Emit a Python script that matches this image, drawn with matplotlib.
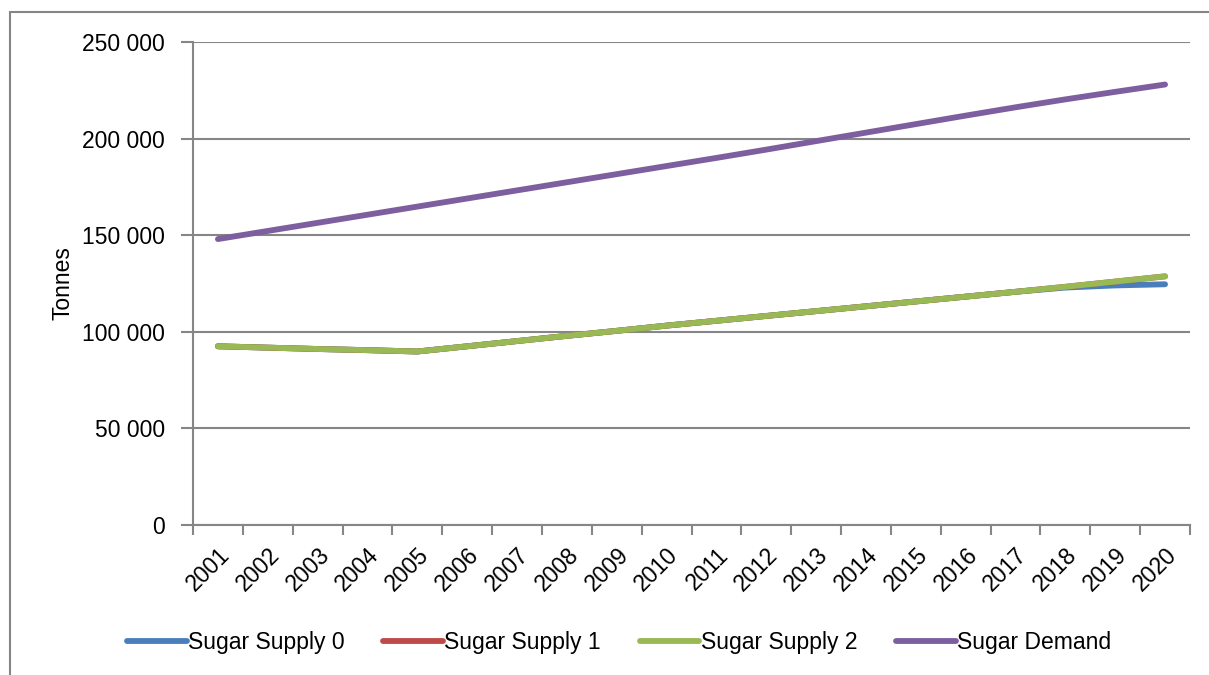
import matplotlib.pyplot as plt
from matplotlib.patches import Rectangle
from matplotlib.ticker import FuncFormatter, FixedLocator

plt.rcParams['font.family'] = ['Liberation Sans', 'DejaVu Sans']

years = [str(y) for y in range(2001, 2021)]
supply_0 = [92500, 91800, 91100, 90500, 89800, 92500, 95200, 97900, 100500, 103200,
            105700, 108200, 110700, 113200, 115700, 118200, 120700, 122900, 124000, 124600]
supply_1 = [92500, 91800, 91100, 90500, 89800, 92500, 95200, 97900, 100500, 103200,
            105700, 108200, 110700, 113200, 115700, 118200, 120700, 123300, 126000, 128700]
supply_2 = [92500, 91800, 91100, 90500, 89800, 92500, 95200, 97900, 100500, 103200,
            105700, 108200, 110700, 113200, 115700, 118200, 120700, 123300, 126000, 128700]
demand = [148000, 152200, 156400, 160600, 164800, 169000, 173200, 177400, 181600, 185800,
          190000, 194300, 198700, 203100, 207500, 211900, 216200, 220300, 224200, 228000]

series = [
    ('Sugar Supply 0', supply_0, '#4A7EBB'),
    ('Sugar Supply 1', supply_1, '#BE4B48'),
    ('Sugar Supply 2', supply_2, '#98B954'),
    ('Sugar Demand', demand, '#7D5FA0'),
]

grey = '#868686'
fs = 16.5
fig = plt.figure(figsize=(12.09, 6.75), dpi=100)
fig.patches.append(Rectangle((10 / 1209, -0.1), 1.2, 1 - 12 / 675 + 0.1,
                             transform=fig.transFigure, fill=False,
                             edgecolor=grey, linewidth=1.5))
ax = fig.add_axes([193 / 1209, 1 - 525 / 675, (1190 - 193) / 1209, (525 - 42) / 675])

x = list(range(len(years)))
for name, vals, col in series:
    ax.plot(x, vals, color=col, linewidth=4.2, solid_capstyle='round', label=name)

ax.set_xlim(-0.5, len(years) - 0.5)
ax.set_ylim(0, 250000)
ax.set_yticks(range(0, 250001, 50000))
ax.yaxis.set_major_formatter(FuncFormatter(lambda v, p: f'{int(v):,}'.replace(',', ' ')))
ax.grid(axis='y', color=grey, linewidth=1.5)
ax.set_axisbelow(True)

# ticks sit between categories, labels under category centres
ax.xaxis.set_major_locator(FixedLocator([i - 0.5 for i in range(len(years) + 1)]))
ax.set_xticklabels([])
ax.xaxis.set_minor_locator(FixedLocator(x))
ax.set_xticklabels(years, minor=True, rotation=45, ha='right', va='top',
                   rotation_mode='anchor', fontsize=fs)
ax.tick_params(axis='x', which='minor', length=0, pad=13)
ax.tick_params(axis='x', which='major', length=7, width=1.5, color=grey)
ax.tick_params(axis='y', length=9, width=1.5, color=grey, labelsize=fs, pad=11)

for s in ['top', 'right']:
    ax.spines[s].set_visible(False)
for s in ['left', 'bottom']:
    ax.spines[s].set_color(grey)
    ax.spines[s].set_linewidth(1.5)

ax.set_ylabel('Tonnes', fontsize=fs, labelpad=6)

fig.legend(loc='center', bbox_to_anchor=(0.512, 1 - 643 / 675), ncol=4, frameon=False,
           fontsize=fs, handlelength=2.6, handletextpad=0.05, columnspacing=1.7)

fig.savefig('out.png', dpi=100)
